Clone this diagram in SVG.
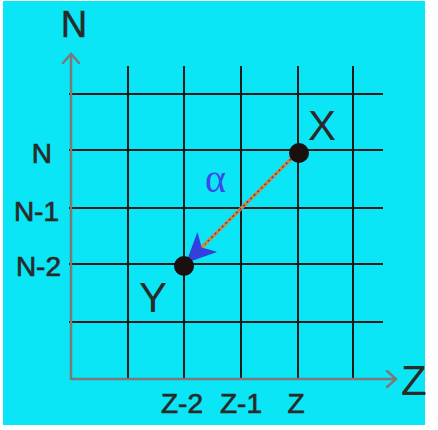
<svg xmlns="http://www.w3.org/2000/svg" width="438" height="430" viewBox="0 0 438 430">
<style>
.grid{stroke:#1a1a1a;stroke-width:2;fill:none}
.axis{stroke:#7a7a7a;stroke-width:2.5;fill:none}
.lbl{font-family:"Liberation Sans",Arial,sans-serif;fill:#2a2a2a}
.tick{font-size:28px;stroke:#2a2a2a;stroke-width:0.7}
.big{font-size:42px}
</style>
<defs>
<marker id="head" viewBox="0 0 30 28" refX="30" refY="14" markerWidth="30" markerHeight="28" markerUnits="userSpaceOnUse" orient="auto">
<path d="M30,14 L0,0 L8,14 L0,28 Z" fill="#3340dd"/>
</marker>
</defs>
<rect x="0" y="0" width="438" height="430" fill="#ffffff"/>
<rect x="3" y="1" width="422" height="424" fill="#0ae6f5"/>
<g id="grid" class="grid">
<path d="M128,66V380M184,66V380M241,66V380M298,66V380M353,66V380"/>
<path d="M69,94H383M69,150H383M69,208H383M69,264H383M69,322H383"/>
</g>
<g id="axes">
<path class="axis" d="M71,380V54M71,379H396"/>
<path class="axis" d="M63,63L71,54L79,63M387,371L396,379L387,387" stroke-linecap="round"/>
<text class="lbl" x="61" y="37" font-size="36" stroke="#2a2a2a" stroke-width="0.6">N</text>
<text class="lbl big" x="401" y="395">Z</text>
</g>
<g id="ticks" class="lbl tick">
<text x="52" y="163" text-anchor="end">N</text>
<text x="59" y="221" text-anchor="end">N-1</text>
<text x="61" y="276" text-anchor="end">N-2</text>
<text x="182" y="413" text-anchor="middle">Z-2</text>
<text x="241" y="413" text-anchor="middle">Z-1</text>
<text x="296" y="413" text-anchor="middle">Z</text>
</g>
<g id="connectors">
<line x1="298" y1="152" x2="186" y2="263" stroke="#d08a30" stroke-width="3.5" marker-end="url(#head)"/>
<line x1="298" y1="152" x2="205" y2="244" stroke="#3a3ad0" stroke-width="1.5" stroke-dasharray="2 3"/>
<text x="205" y="192" font-family="Liberation Serif,serif" font-size="40" fill="#3a4ae8">α</text>
</g>
<g id="node-X">
<circle cx="299" cy="153" r="10" fill="#1a1010"/>
<text class="lbl big" x="308" y="140">X</text>
</g>
<g id="node-Y">
<circle cx="184" cy="266" r="10" fill="#1a1010"/>
<text class="lbl big" x="139" y="312">Y</text>
</g>
</svg>
